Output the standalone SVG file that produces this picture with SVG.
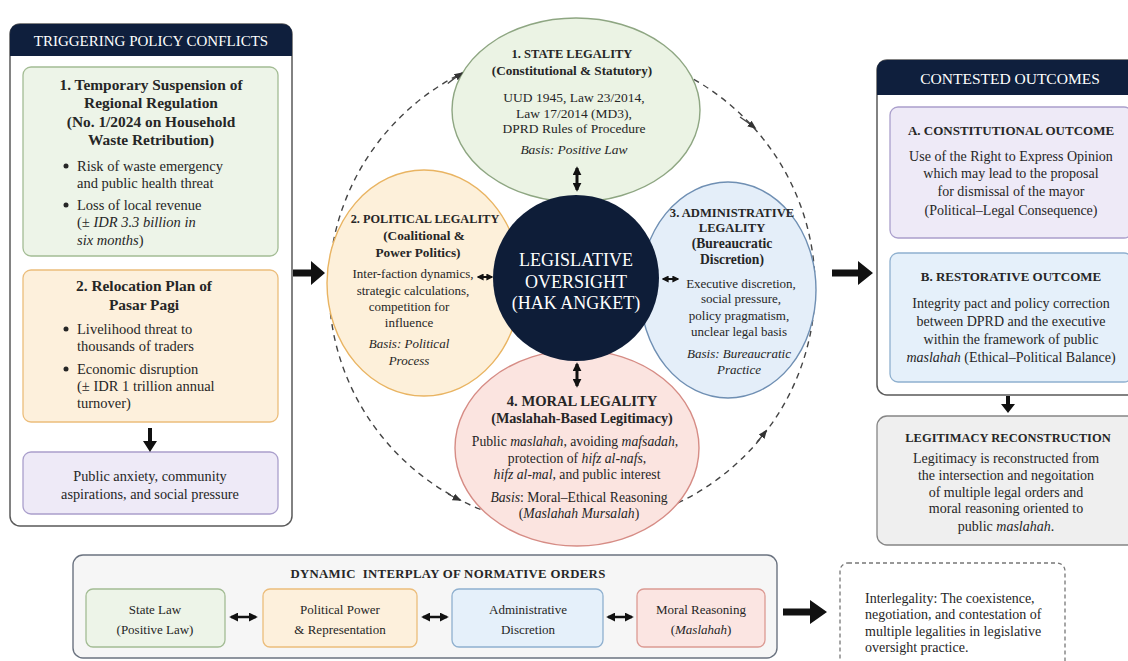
<svg xmlns="http://www.w3.org/2000/svg" width="1128" height="661" viewBox="0 0 1128 661">
  <defs>
    <style>
      .t { font-family: "Liberation Serif", "Times New Roman", serif; fill: #262626; }
      .c { text-anchor: middle; }
      .b { font-weight: bold; }
      .i { font-style: italic; }
      .w { fill: #ffffff; }
      .lt { font-size: 15.4px; font-weight: bold; }
      .lb { font-size: 14.5px; }
      .rt { font-size: 13px; font-weight: bold; }
      .rb { font-size: 14px; }
      .f13 { font-size: 13px; }
      .f135 { font-size: 13.5px; }
      .f14 { font-size: 14px; }
      .navy { fill: #0f1f3d; }
      .panel { fill: #ffffff; stroke: #5a5a5a; stroke-width: 1.5; }
      .green { fill: #edf4e8; stroke: #a3bc94; stroke-width: 1.3; }
      .orange { fill: #fdf0dc; stroke: #ecbd7b; stroke-width: 1.3; }
      .purple { fill: #eeeaf7; stroke: #aa9fcc; stroke-width: 1.3; }
      .blue { fill: #e5f0fa; stroke: #8fb0cf; stroke-width: 1.3; }
      .red { fill: #fbe5e2; stroke: #dc9a93; stroke-width: 1.3; }
      .gray { fill: #efefef; stroke: #858585; stroke-width: 1.3; }
      .arrow { fill: #111111; }
      .dbl { stroke: #111111; fill: none; }
      .ring { fill: none; stroke: #444444; stroke-width: 1.4; stroke-dasharray: 6 5; }
    </style>
    <marker id="head" viewBox="0 0 10 10" refX="8" refY="5" markerWidth="9" markerHeight="9" markerUnits="userSpaceOnUse" orient="auto-start-reverse">
      <path d="M0,0 L10,5 L0,10 z" fill="#111111"/>
    </marker>
    <marker id="headS" viewBox="0 0 10 10" refX="8" refY="5" markerWidth="7" markerHeight="7" markerUnits="userSpaceOnUse" orient="auto-start-reverse">
      <path d="M0,0 L10,5 L0,10 z" fill="#111111"/>
    </marker>
    <marker id="headR" viewBox="0 0 10 10" refX="8" refY="5" markerWidth="9" markerHeight="9" markerUnits="userSpaceOnUse" orient="auto">
      <path d="M0,1 L10,5 L0,9 z" fill="#333333"/>
    </marker>
  </defs>

  <rect width="1128" height="661" fill="#ffffff"/>

  <!-- Left panel: triggering policy conflicts -->
  <g id="triggering-panel">
    <rect class="panel" x="10" y="24" width="282" height="502" rx="10"/>
    <path class="navy" d="M10,56 V34 Q10,24 20,24 H282 Q292,24 292,34 V56 Z"/>
    <text class="t c w" font-size="15" x="151" y="46">TRIGGERING POLICY CONFLICTS</text>
  </g>

  <g id="conflict-waste">
    <rect class="green" x="23" y="67" width="255" height="189" rx="8"/>
    <text class="t c lt" x="151" y="90">1. Temporary Suspension of</text>
    <text class="t c lt" x="151" y="108">Regional Regulation</text>
    <text class="t c lt" x="151" y="127">(No. 1/2024 on Household</text>
    <text class="t c lt" x="151" y="145">Waste Retribution)</text>
    <circle cx="66" cy="166" r="2.5" fill="#262626"/>
    <text class="t lb" x="77" y="171">Risk of waste emergency</text>
    <text class="t lb" x="77" y="188">and public health threat</text>
    <circle cx="66" cy="205" r="2.5" fill="#262626"/>
    <text class="t lb" x="77" y="210">Loss of local revenue</text>
    <text class="t lb" x="77" y="227">(<tspan class="i">± IDR 3.3 billion in</tspan></text>
    <text class="t lb" x="77" y="245"><tspan class="i">six months</tspan>)</text>
  </g>

  <g id="conflict-market">
    <rect class="orange" x="23" y="270" width="255" height="152" rx="8"/>
    <text class="t c lt" x="144" y="291">2. Relocation Plan of</text>
    <text class="t c lt" x="144" y="310">Pasar Pagi</text>
    <circle cx="66" cy="329" r="2.5" fill="#262626"/>
    <text class="t lb" x="77" y="334">Livelihood threat to</text>
    <text class="t lb" x="77" y="351">thousands of traders</text>
    <circle cx="66" cy="369" r="2.5" fill="#262626"/>
    <text class="t lb" x="77" y="374">Economic disruption</text>
    <text class="t lb" x="77" y="391">(± IDR 1 trillion annual</text>
    <text class="t lb" x="77" y="408">turnover)</text>
  </g>

  <g id="public-pressure">
    <rect class="purple" x="23" y="452" width="255" height="62" rx="8"/>
    <text class="t c" font-size="14.3" x="150" y="481">Public anxiety, community</text>
    <text class="t c" font-size="14.3" x="150" y="499">aspirations, and social pressure</text>
  </g>

  <!-- Dashed ring behind the four legalities -->
  <g id="ring">
    <ellipse class="ring" cx="572" cy="287" rx="243" ry="240"/>
  </g>

  <!-- Four legalities around the oversight core -->
  <g id="state-legality">
    <ellipse cx="576" cy="110" rx="124" ry="92" fill="#ebf3e4" stroke="#8ea682" stroke-width="1.4"/>
    <text class="t c b" font-size="12.5" x="572" y="58">1. STATE LEGALITY</text>
    <text class="t c b" font-size="13.2" x="572" y="75">(Constitutional &amp; Statutory)</text>
    <text class="t c f135" x="574" y="102">UUD 1945, Law 23/2014,</text>
    <text class="t c f135" x="574" y="118">Law 17/2014 (MD3),</text>
    <text class="t c f135" x="574" y="133">DPRD Rules of Procedure</text>
    <text class="t c i f135" x="574" y="154">Basis: Positive Law</text>
  </g>

  <g id="political-legality">
    <ellipse cx="424" cy="283" rx="97" ry="113" fill="#fdf0da" stroke="#e9b462" stroke-width="1.4"/>
    <text class="t c b" font-size="12.3" x="425" y="223">2. POLITICAL LEGALITY</text>
    <text class="t c b" font-size="13.3" x="424" y="240">(Coalitional &amp;</text>
    <text class="t c b" font-size="13.3" x="418" y="257">Power Politics)</text>
    <text class="t c f13" x="413" y="278">Inter-faction dynamics,</text>
    <text class="t c f13" x="413" y="295">strategic calculations,</text>
    <text class="t c f13" x="409" y="311">competition for</text>
    <text class="t c f13" x="409" y="327">influence</text>
    <text class="t c i f13" x="409" y="348">Basis: Political</text>
    <text class="t c i f13" x="409" y="365">Process</text>
  </g>

  <g id="administrative-legality">
    <ellipse cx="728" cy="290" rx="88" ry="108" fill="#e4eef9" stroke="#6f8fb3" stroke-width="1.4"/>
    <text class="t c b" font-size="12.6" x="732" y="217">3. ADMINISTRATIVE</text>
    <text class="t c b" font-size="12.6" x="732" y="232">LEGALITY</text>
    <text class="t c b" font-size="13.6" x="732" y="248">(Bureaucratic</text>
    <text class="t c b" font-size="13.6" x="732" y="264">Discretion)</text>
    <text class="t c f13" x="741" y="288">Executive discretion,</text>
    <text class="t c f13" x="741" y="303">social pressure,</text>
    <text class="t c f13" x="739" y="320">policy pragmatism,</text>
    <text class="t c f13" x="739" y="336">unclear legal basis</text>
    <text class="t c i f13" x="739" y="358">Basis: Bureaucratic</text>
    <text class="t c i f13" x="739" y="374">Practice</text>
  </g>

  <g id="moral-legality">
    <ellipse cx="577" cy="448" rx="122" ry="98" fill="#fbe4e0" stroke="#d68c85" stroke-width="1.4"/>
    <text class="t c b" font-size="14.6" x="582" y="406">4. MORAL LEGALITY</text>
    <text class="t c b" font-size="14.2" x="582" y="423">(Maslahah-Based Legitimacy)</text>
    <text class="t c" font-size="13.7" x="575" y="446">Public <tspan class="i">maslahah</tspan>, avoiding <tspan class="i">mafsadah</tspan>,</text>
    <text class="t c" font-size="13.7" x="577" y="463">protection of <tspan class="i">hifz al-nafs</tspan>,</text>
    <text class="t c" font-size="13.7" x="577" y="479"><tspan class="i">hifz al-mal</tspan>, and public interest</text>
    <text class="t c" font-size="13.7" x="579" y="502"><tspan class="i">Basis</tspan>: Moral–Ethical Reasoning</text>
    <text class="t c" font-size="13.7" x="579" y="518">(<tspan class="i">Maslahah Mursalah</tspan>)</text>
  </g>

  <g id="oversight-core">
    <circle cx="576" cy="278" r="83" fill="#0e1d38"/>
    <text class="t c w" font-size="18" x="576" y="266">LEGISLATIVE</text>
    <text class="t c w" font-size="18" x="576" y="288">OVERSIGHT</text>
    <text class="t c w" font-size="18" x="576" y="309">(HAK ANGKET)</text>
  </g>

  <!-- Right panel: contested outcomes -->
  <g id="outcomes-panel">
    <rect class="panel" x="877" y="60" width="262" height="335" rx="10"/>
    <path class="navy" d="M877,95 V70 Q877,60 887,60 H1129 Q1139,60 1139,70 V95 Z"/>
    <text class="t c w" font-size="15.5" x="1010" y="84">CONTESTED OUTCOMES</text>
  </g>

  <g id="constitutional-outcome">
    <rect class="purple" x="890" y="107" width="242" height="131" rx="8"/>
    <text class="t c rt" font-size="13.3" x="1011" y="135">A. CONSTITUTIONAL OUTCOME</text>
    <text class="t c rb" x="1011" y="161">Use of the Right to Express Opinion</text>
    <text class="t c rb" x="1011" y="178">which may lead to the proposal</text>
    <text class="t c rb" x="1011" y="196">for dismissal of the mayor</text>
    <text class="t c rb" x="1011" y="215">(Political–Legal Consequence)</text>
  </g>

  <g id="restorative-outcome">
    <rect class="blue" x="890" y="253" width="242" height="129" rx="8"/>
    <text class="t c rt" x="1011" y="281">B. RESTORATIVE OUTCOME</text>
    <text class="t c rb" x="1011" y="308">Integrity pact and policy correction</text>
    <text class="t c rb" x="1011" y="326">between DPRD and the executive</text>
    <text class="t c rb" x="1011" y="344">within the framework of public</text>
    <text class="t c rb" x="1011" y="362"><tspan class="i">maslahah</tspan> (Ethical–Political Balance)</text>
  </g>

  <g id="legitimacy-reconstruction">
    <rect class="gray" x="877" y="416" width="262" height="129" rx="10"/>
    <text class="t c b" font-size="12.5" x="1008" y="442">LEGITIMACY RECONSTRUCTION</text>
    <text class="t c rb" x="1006" y="463">Legitimacy is reconstructed from</text>
    <text class="t c rb" x="1006" y="480">the intersection and negoitation</text>
    <text class="t c rb" x="1006" y="497">of multiple legal orders and</text>
    <text class="t c rb" x="1006" y="513">moral reasoning oriented to</text>
    <text class="t c rb" x="1006" y="531">public <tspan class="i">maslahah</tspan>.</text>
  </g>

  <!-- Bottom band: dynamic interplay -->
  <g id="interplay-band">
    <rect x="73" y="555" width="704" height="103" rx="10" fill="#f6f6f6" stroke="#6b7380" stroke-width="1.4"/>
    <text class="t c b" font-size="12.8" x="448" y="578" letter-spacing="0.3" style="white-space:pre">DYNAMIC  INTERPLAY OF NORMATIVE ORDERS</text>
  </g>
  <g id="state-law">
    <rect class="green" x="86" y="589" width="139" height="58" rx="7"/>
    <text class="t c f13" x="155" y="614">State Law</text>
    <text class="t c f13" x="155" y="634">(Positive Law)</text>
  </g>
  <g id="political-power">
    <rect class="orange" x="263" y="589" width="154" height="58" rx="7"/>
    <text class="t c f13" x="340" y="614">Political Power</text>
    <text class="t c f13" x="340" y="634">&amp; Representation</text>
  </g>
  <g id="administrative-discretion">
    <rect class="blue" x="452" y="589" width="151" height="58" rx="7"/>
    <text class="t c f13" x="528" y="614">Administrative</text>
    <text class="t c f13" x="528" y="634">Discretion</text>
  </g>
  <g id="moral-reasoning">
    <rect class="red" x="637" y="589" width="128" height="58" rx="7"/>
    <text class="t c f13" x="701" y="614">Moral Reasoning</text>
    <text class="t c f13" x="701" y="634">(<tspan class="i">Maslahah</tspan>)</text>
  </g>
  <g id="interlegality">
    <rect x="840" y="563" width="225" height="112" rx="8" fill="#ffffff" stroke="#777777" stroke-width="1.3" stroke-dasharray="4 3"/>
    <text class="t f14" x="865" y="603">Interlegality: The coexistence,</text>
    <text class="t f14" x="865" y="619">negotiation, and contestation of</text>
    <text class="t f14" x="865" y="636">multiple legalities in legislative</text>
    <text class="t f14" x="865" y="652">oversight practice.</text>
  </g>

  <!-- Connectors -->
  <g id="connectors">
    <!-- block arrows -->
    <polygon class="arrow" points="293,269.5 311,269.5 311,261 325,273 311,285 311,276.5 293,276.5"/>
    <polygon class="arrow" points="832,269.5 858,269.5 858,261 873,273 858,285 858,276.5 832,276.5"/>
    <polygon class="arrow" points="783,608.5 810,608.5 810,600 827,612 810,624 810,615.5 783,615.5"/>
    <polygon class="arrow" points="148,428 152,428 152,441 157,441 150,452 143,441 148,441"/>
    <polygon class="arrow" points="1006,396 1010,396 1010,404 1015,404 1008,413 1001,404 1006,404"/>

    <!-- core to legalities -->
    <line class="dbl" x1="577" y1="168" x2="577" y2="190" stroke-width="3" marker-start="url(#head)" marker-end="url(#head)"/>
    <line class="dbl" x1="577" y1="364" x2="577" y2="386" stroke-width="3" marker-start="url(#head)" marker-end="url(#head)"/>
    <line class="dbl" x1="478" y1="277" x2="492" y2="277" stroke-width="2" marker-start="url(#headS)" marker-end="url(#headS)"/>
    <line class="dbl" x1="663" y1="279" x2="678" y2="279" stroke-width="2" marker-start="url(#headS)" marker-end="url(#headS)"/>

    <!-- interplay links -->
    <line class="dbl" x1="231" y1="617" x2="256" y2="617" stroke-width="2.5" marker-start="url(#head)" marker-end="url(#head)"/>
    <line class="dbl" x1="423" y1="617" x2="447" y2="617" stroke-width="2.5" marker-start="url(#head)" marker-end="url(#head)"/>
    <line class="dbl" x1="608" y1="617" x2="632" y2="617" stroke-width="2.5" marker-start="url(#head)" marker-end="url(#head)"/>

    <!-- ring arrowheads -->
    <path d="M447.8,83.5 A243,240 0 0 1 461.7,73.2" fill="none" stroke="#444" stroke-width="1.4" marker-end="url(#headR)"/>
    <path d="M740,117 A243,240 0 0 1 755,128" fill="none" stroke="#444" stroke-width="1.4" marker-end="url(#headR)"/>
    <path d="M448,494 A243,240 0 0 0 460,500" fill="none" stroke="#444" stroke-width="1.4" marker-end="url(#headR)"/>
    <path d="M757,442 A243,240 0 0 0 766,431" fill="none" stroke="#444" stroke-width="1.4" marker-end="url(#headR)"/>
  </g>
</svg>
